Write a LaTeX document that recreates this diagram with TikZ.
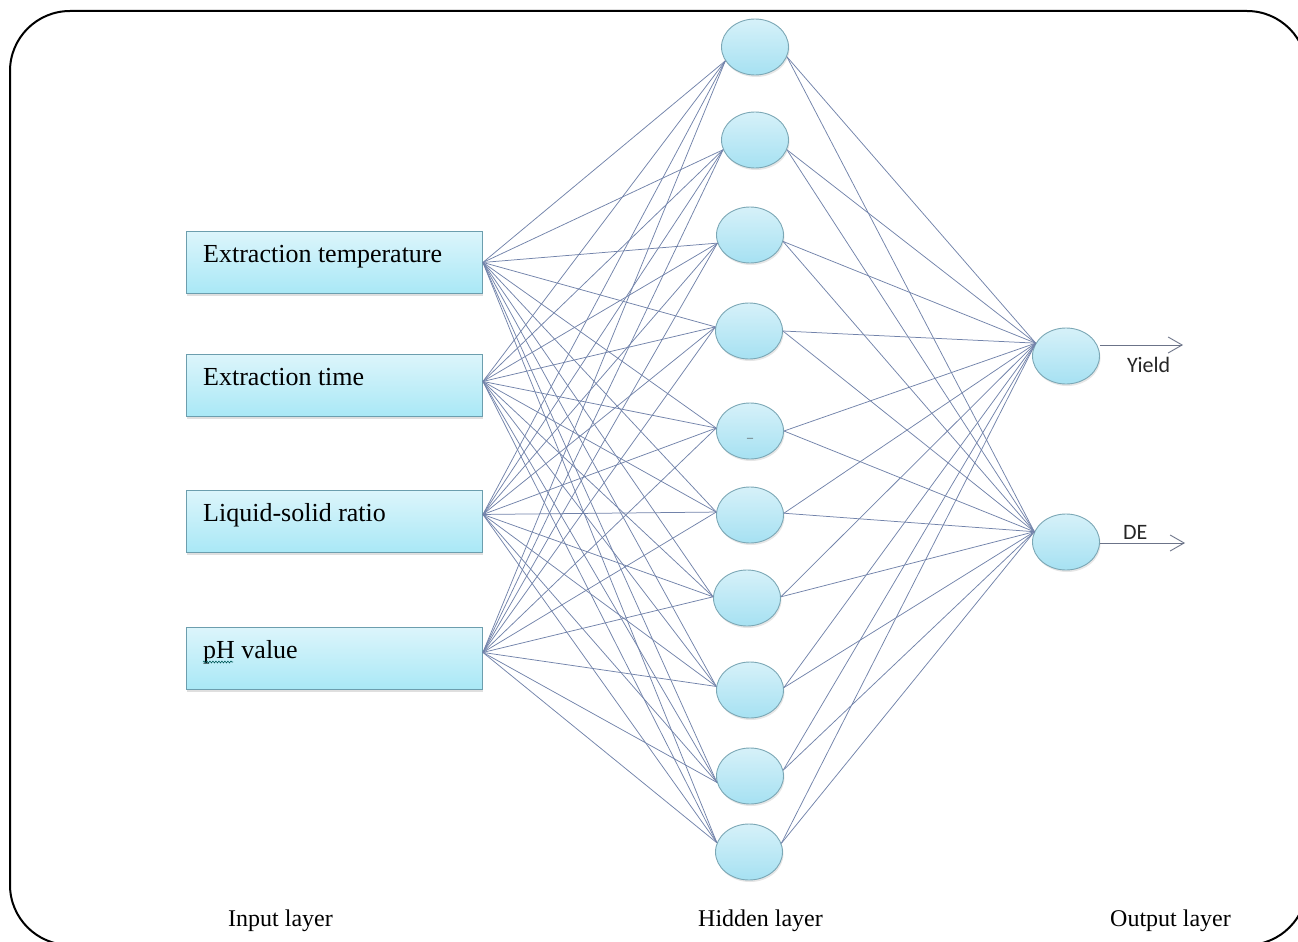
\documentclass[tikz,border=0pt]{standalone}
\usepackage{fontspec}
\setmainfont{Liberation Serif}
\newfontfamily\calib{Carlito}
\usetikzlibrary{shapes.geometric,shadows,arrows.meta,decorations.pathmorphing,calc}
\definecolor{linec}{HTML}{7283AA}
\definecolor{boxtop}{HTML}{DCF5FB}
\definecolor{boxbot}{HTML}{A9E8F6}
\definecolor{boxborder}{HTML}{6C9EAE}
\definecolor{ntop}{HTML}{D6F1F9}
\definecolor{nbot}{HTML}{A6E1F2}
\definecolor{nborder}{HTML}{7BA7B5}
\definecolor{arrc}{HTML}{6B7388}
\begin{document}
\begin{tikzpicture}[x=1pt,y=-1pt,
  inbox/.style={draw=boxborder, line width=0.9pt, top color=boxtop, bottom color=boxbot,
    minimum width=296pt, minimum height=62pt, anchor=north west, inner sep=0pt,
    drop shadow={shadow xshift=1pt, shadow yshift=-3pt, opacity=0.25, fill=gray}},
  intext/.style={font=\fontsize{26}{30}\selectfont, anchor=base west, inner sep=0pt},
  neuron/.style={ellipse, draw=nborder, line width=0.9pt, top color=ntop, bottom color=nbot,
    minimum width=67pt, minimum height=56pt, inner sep=0pt,
    drop shadow={shadow xshift=1pt, shadow yshift=-2pt, opacity=0.2, fill=gray}},
  conn/.style={draw=linec, line width=0.75pt},
  outarrow/.style={draw=arrc, line width=0.9pt, -{Straight Barb[length=14pt,width=16pt,line width=0.9pt]}},
  outlabel/.style={font=\calib\fontsize{22}{26}\selectfont, anchor=west, inner sep=0pt, text=black!85},
  layerlabel/.style={font=\fontsize{24}{28}\selectfont, anchor=base west, inner sep=0pt},
  frame/.style={draw=black, line width=2pt, rounded corners=60pt}
]
\useasboundingbox (0,0) rectangle (1298,942);
\begin{scope}
\clip (0,0) rectangle (1298,942);
\draw[frame] (10,11) rectangle (1307,945);
\end{scope}

% input boxes
\node[inbox] (i1) at (186,231) {};
\node[inbox] (i2) at (186,354) {};
\node[inbox] (i3) at (186,490) {};
\node[inbox] (i4) at (186,627) {};
\node[intext] (t1) at (203,262) {Extraction temperature};
\node[intext] (t2) at (203,385) {Extraction time};
\node[intext] (t3) at (203,521) {Liquid-solid ratio};
\node[intext] (t4) at (203,658) {pH value};
\draw[draw=teal!70!black, line width=0.6pt, decorate, decoration={snake, amplitude=0.9pt, segment length=3pt}]
  ([yshift=-4pt]t4.base west) -- ([yshift=-4pt,xshift=30pt]t4.base west);

\coordinate (p1) at (i1.east);
\coordinate (p2) at ([yshift=4pt]i2.east);
\coordinate (p3) at ([yshift=7pt]i3.east);
\coordinate (p4) at ([yshift=6pt]i4.east);

% hidden nodes
\foreach \n/\x/\y in {1/755/47, 2/755/140, 3/750/235, 4/749/331, 5/750/431,
                      6/750/515, 7/747/598, 8/750/690, 9/750/776, 10/749/852}
  \node[neuron] (h\n) at (\x,\y) {};
\node[font=\fontsize{12}{12}\selectfont, inner sep=0pt, text=black!70] (h5dash) at ([yshift=-9pt]h5.center) {--};

% output nodes
\node[neuron] (oy) at (1066,356) {};
\node[neuron] (od) at (1066,542) {};

% connections
\foreach \n/\ia/\oa in {1/205/343, 2/197/343, 3/194/349, 4/173/0, 5/175/0,
                        6/175/3, 7/178/2, 8/174/4, 9/191/10, 10/164/15} {
  \foreach \p in {1,2,3,4}
    \draw[conn] (p\p) -- (h\n.\ia);
  \draw[conn] (h\n.\oa) -- (oy.157);
  \draw[conn] (h\n.\oa) -- (od.162);
}

% output arrows
\coordinate (ya) at (1183,345);
\coordinate (da) at (1185,543);
\draw[outarrow] (oy.east |- ya) -- (ya);
\draw[outarrow] (od.east |- da) -- (da);
\node[outlabel] (ly) at (1127,365) {Yield};
\node[outlabel] (ld) at (1123,532) {DE};

% layer labels
\node[layerlabel] (l1) at (228,926) {Input layer};
\node[layerlabel] (l2) at (698,926) {Hidden layer};
\node[layerlabel] (l3) at (1110,926) {Output layer};
\end{tikzpicture}
\end{document}
